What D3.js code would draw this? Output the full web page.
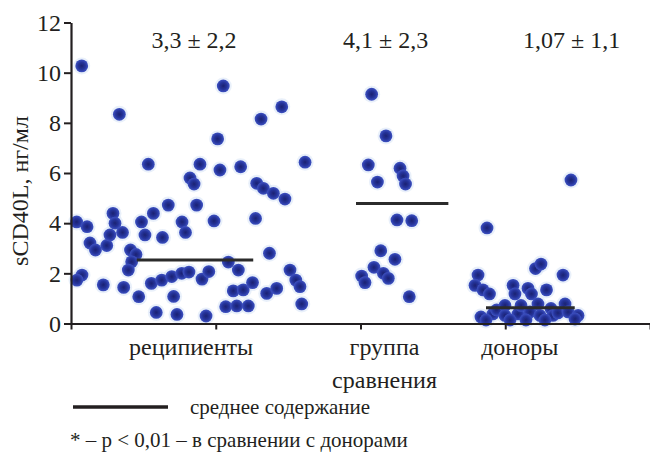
<!DOCTYPE html>
<html>
<head>
<meta charset="utf-8">
<script src="https://cdn.jsdelivr.net/npm/d3@7"></script>
<style>
  html, body { margin: 0; padding: 0; background: #fff; }
  svg { display: block; }
</style>
</head>
<body>
<svg id="chart" width="650" height="461"></svg>
<script>
// Group labels and their positions along the category axis
const categories = ["реципиенты", "группа", "доноры"];
const categorySub = ["", "сравнения", ""];
const categoryPos = [0.83, 2.166, 3.10];

// Mean ± SD annotation for each group
const groupStats = ["3,3 ± 2,2", "4,1 ± 2,3", "1,07 ± 1,1"];
const statsPos = [0.85, 2.173, 3.459];

// Horizontal mean bars: level and horizontal extent
const meanValues = [2.53, 4.78, 0.63];
const meanFrom = [0.454, 1.969, 2.867];
const meanTo = [1.259, 2.607, 3.480];

const yTicks = [0, 2, 4, 6, 8, 10, 12];
const xTicks = [0, 1, 2, 3, 4];

// Individual measurements, sCD40L (нг/мл); x is the scatter position within the group
const recipientsX = [0.074, 0.334, 1.052, 1.456, 1.313, 1.013, 0.534, 0.891, 1.029, 1.172,
  1.617, 0.822, 0.850, 1.283, 1.329, 1.398, 1.478, 0.039, 0.111, 0.131,
  0.169, 0.247, 0.269, 0.290, 0.304, 0.356, 0.411, 0.449, 0.419, 0.396,
  0.487, 0.511, 0.569, 0.632, 0.672, 0.767, 0.791, 0.868, 0.988, 1.275,
  1.371, 0.076, 0.041, 0.223, 0.364, 0.468, 0.555, 0.627, 0.696, 0.765,
  0.815, 0.709, 0.589, 0.732, 0.933, 0.905, 0.952, 1.087, 1.156, 1.121,
  1.190, 1.254, 1.069, 1.145, 1.225, 1.352, 1.421, 1.513, 1.553, 1.582, 1.594];
const recipientsY = [10.27, 8.34, 9.47, 8.64, 8.15, 7.36, 6.35, 6.35, 6.12, 6.25,
  6.43, 5.80, 5.56, 5.59, 5.39, 5.19, 4.96, 4.05, 3.86, 3.21,
  2.93, 3.11, 3.53, 4.39, 4.00, 3.63, 2.93, 2.75, 2.46, 2.13,
  4.05, 3.53, 4.39, 3.43, 4.72, 4.05, 3.63, 4.72, 4.09, 4.19,
  2.80, 1.93, 1.73, 1.54, 1.44, 1.07, 1.60, 1.73, 1.87, 2.00,
  2.05, 1.08, 0.44, 0.36, 0.30, 1.77, 2.07, 2.45, 2.13, 1.30,
  1.34, 1.63, 0.67, 0.70, 0.70, 1.20, 1.40, 2.13, 1.73, 1.47, 0.78];

const comparisonX = [2.077, 2.176, 2.054, 2.273, 2.294, 2.311, 2.117, 2.252, 2.354,
  2.140, 2.238, 2.093, 2.158, 2.192, 2.008, 2.031, 2.337];
const comparisonY = [9.14, 7.48, 6.32, 6.19, 5.88, 5.56, 5.64, 4.13, 4.10,
  2.90, 2.56, 2.24, 2.00, 1.80, 1.89, 1.63, 1.07];

const donorsX = [2.874, 3.209, 3.247, 3.399, 3.454, 2.812, 2.791, 2.846, 2.891, 3.054,
  3.067, 3.157, 3.181, 3.285, 2.832, 2.915, 2.940, 2.998, 2.998, 3.088,
  3.109, 3.171, 3.226, 3.240, 3.316, 3.330, 3.364, 3.413, 3.434, 3.503,
  3.482, 2.867, 3.033, 3.143, 3.274];
const donorsY = [3.81, 2.19, 2.37, 1.93, 5.72, 1.93, 1.52, 1.34, 1.18, 1.52,
  1.18, 1.40, 1.18, 1.34, 0.26, 0.38, 0.54, 0.72, 0.32, 0.38,
  0.72, 0.46, 0.78, 0.32, 0.60, 0.32, 0.42, 0.78, 0.46, 0.32,
  0.18, 0.14, 0.14, 0.14, 0.14];

const SERIF = "'Liberation Serif', 'Times New Roman', Tinos, serif";
const INK = "#231f20";

const svg = d3.select("#chart");
const x = d3.scaleLinear().domain([0, 4]).range([71, 650]);
const y = d3.scaleLinear().domain([0, 12]).range([323.5, 22.5]);

const defs = svg.append("defs");
const grad = defs.append("radialGradient").attr("id", "dotFill")
  .attr("cx", "50%").attr("cy", "50%").attr("r", "50%");
grad.append("stop").attr("offset", "0%").attr("stop-color", "#1b2272");
grad.append("stop").attr("offset", "55%").attr("stop-color", "#25339a");
grad.append("stop").attr("offset", "100%").attr("stop-color", "#3e52c2");
defs.append("filter").attr("id", "soft")
  .append("feGaussianBlur").attr("stdDeviation", 0.5);

const points = [];
recipientsX.forEach((v, i) => points.push([v, recipientsY[i]]));
comparisonX.forEach((v, i) => points.push([v, comparisonY[i]]));
donorsX.forEach((v, i) => points.push([v, donorsY[i]]));

// faint halo round each point
svg.append("g").selectAll("circle").data(points).join("circle")
  .attr("cx", d => x(d[0])).attr("cy", d => y(d[1])).attr("r", 8.5)
  .attr("fill", "#c9daf3").attr("opacity", 0.4);

svg.append("g").attr("filter", "url(#soft)")
  .selectAll("circle").data(points).join("circle")
  .attr("cx", d => x(d[0])).attr("cy", d => y(d[1])).attr("r", 6.4)
  .attr("fill", "url(#dotFill)");

// mean bars
svg.append("g").selectAll("line").data(meanValues).join("line")
  .attr("x1", (d, i) => x(meanFrom[i])).attr("x2", (d, i) => x(meanTo[i]))
  .attr("y1", d => y(d)).attr("y2", d => y(d))
  .attr("stroke", "#2b2b2b").attr("stroke-width", 3);

// axes
const yAxis = svg.append("g").attr("transform", "translate(71,0)")
  .call(d3.axisLeft(y).tickValues(yTicks).tickSize(7).tickSizeOuter(0).tickPadding(3));
const xAxis = svg.append("g").attr("transform", `translate(0,${y(0)})`)
  .call(d3.axisBottom(x).tickValues(xTicks).tickFormat("").tickSize(6).tickSizeOuter(0));
[yAxis, xAxis].forEach(g => {
  g.attr("font-family", null).attr("font-size", null);
  g.select(".domain").attr("stroke", INK).attr("stroke-width", 2.2);
  g.selectAll(".tick line").attr("stroke", INK).attr("stroke-width", 2);
});
yAxis.selectAll(".tick text")
  .attr("font-family", SERIF).attr("font-size", 24)
  .style("font-family", SERIF).style("font-size", "24px")
  .attr("fill", INK);

function label(sel) {
  return sel.attr("font-family", SERIF).style("font-family", SERIF)
    .attr("fill", INK);
}

// y-axis title
label(svg.append("text"))
  .attr("transform", "translate(28,191) rotate(-90)")
  .attr("text-anchor", "middle").style("font-size", "24px")
  .text("sCD40L, нг/мл");

// group statistics
label(svg.append("g").selectAll("text").data(groupStats).join("text"))
  .attr("x", (d, i) => x(statsPos[i])).attr("y", 48)
  .attr("text-anchor", "middle").style("font-size", "24px")
  .text(d => d);

// category labels
label(svg.append("g").selectAll("text").data(categories).join("text"))
  .attr("x", (d, i) => x(categoryPos[i])).attr("y", 355)
  .attr("text-anchor", "middle").style("font-size", "24px")
  .text(d => d);
label(svg.append("g").selectAll("text").data(categorySub).join("text"))
  .attr("x", (d, i) => x(categoryPos[i])).attr("y", 388)
  .attr("text-anchor", "middle").style("font-size", "24px")
  .text(d => d);

// legend
svg.append("line").attr("x1", 73).attr("x2", 168).attr("y1", 407).attr("y2", 407)
  .attr("stroke", INK).attr("stroke-width", 3.5);
label(svg.append("text")).attr("x", 190).attr("y", 414).style("font-size", "21px")
  .text("среднее содержание");
label(svg.append("text")).attr("x", 70).attr("y", 447).style("font-size", "21px")
  .text("* – р < 0,01 – в сравнении с донорами");
</script>
</body>
</html>
